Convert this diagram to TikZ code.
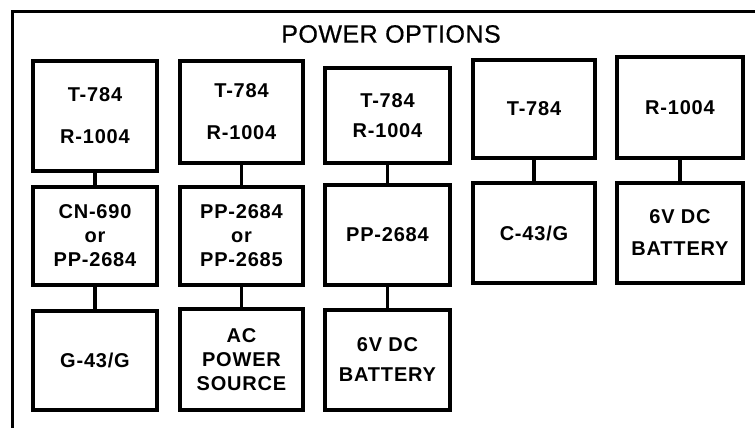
\documentclass[tikz,border=0pt]{standalone}
\usepackage{fontspec}
\setmainfont{Liberation Sans}
\newfontfamily\boxfont[LetterSpace=4]{Liberation Sans Bold}
\newfontfamily\titlefont[LetterSpace=2,FakeBold=0.6]{Liberation Sans}
\newcommand{\fsz}[1]{\boxfont\fontsize{20}{#1}\selectfont}
\tikzset{
  box/.style={draw, rectangle, line width=3.3pt, align=center, inner sep=0pt},
  link/.style={line width=3.3pt},
  framestyle/.style={line width=3pt},
}
\begin{document}
\begin{tikzpicture}[x=1pt,y=-1pt]
\useasboundingbox (0,0) rectangle (755,428);
% frame
\coordinate (ftl) at (12,12);
\coordinate (fbl) at (12,428);
\coordinate (ftr) at (755,12);
\draw[framestyle] (fbl) -- (ftl) -- (ftr);
\node[font=\titlefont\fontsize{25}{28}\selectfont] (title) at (391,34) {POWER OPTIONS};
% column 1
\node[box, minimum width=124pt, minimum height=110pt, font=\fsz{42}] (a1) at (95,116) {T-784\\R-1004};
\node[box, minimum width=124pt, minimum height=98pt, font=\fsz{24}] (b1) at (95,236) {CN-690\\or\\PP-2684};
\node[box, minimum width=124pt, minimum height=99pt, font=\fsz{24}] (c1) at (95,360.5) {G-43/G};
% column 2
\node[box, minimum width=123pt, minimum height=102pt, font=\fsz{42}] (a2) at (241.5,112) {T-784\\R-1004};
\node[box, minimum width=123pt, minimum height=98pt, font=\fsz{24}] (b2) at (241.5,236) {PP-2684\\or\\PP-2685};
\node[box, minimum width=123pt, minimum height=101pt, font=\fsz{24}] (c2) at (241.5,359.5) {AC\\POWER\\SOURCE};
% column 3
\node[box, minimum width=125pt, minimum height=95pt, font=\fsz{30}] (a3) at (387.5,115.5) {T-784\\R-1004};
\node[box, minimum width=125pt, minimum height=100pt, font=\fsz{24}] (b3) at (387.5,235) {PP-2684};
\node[box, minimum width=125pt, minimum height=100pt, font=\fsz{30}] (c3) at (387.5,360) {6V DC\\BATTERY};
% column 4
\node[box, minimum width=122pt, minimum height=98pt, font=\fsz{24}] (a4) at (534,109) {T-784};
\node[box, minimum width=122pt, minimum height=100pt, font=\fsz{24}] (b4) at (534,233) {C-43/G};
% column 5
\node[box, minimum width=126pt, minimum height=101pt, font=\fsz{24}] (a5) at (680,107.5) {R-1004};
\node[box, minimum width=126pt, minimum height=100pt, font=\fsz{32}] (b5) at (680,233) {6V DC\\BATTERY};
% connectors
\draw[link] (a1.south) -- (b1.north);
\draw[link] (b1.south) -- (c1.north);
\draw[link] (a2.south) -- (b2.north);
\draw[link] (b2.south) -- (c2.north);
\draw[link] (a3.south) -- (b3.north);
\draw[link] (b3.south) -- (c3.north);
\draw[link] (a4.south) -- (b4.north);
\draw[link] (a5.south) -- (b5.north);
\end{tikzpicture}
\end{document}
